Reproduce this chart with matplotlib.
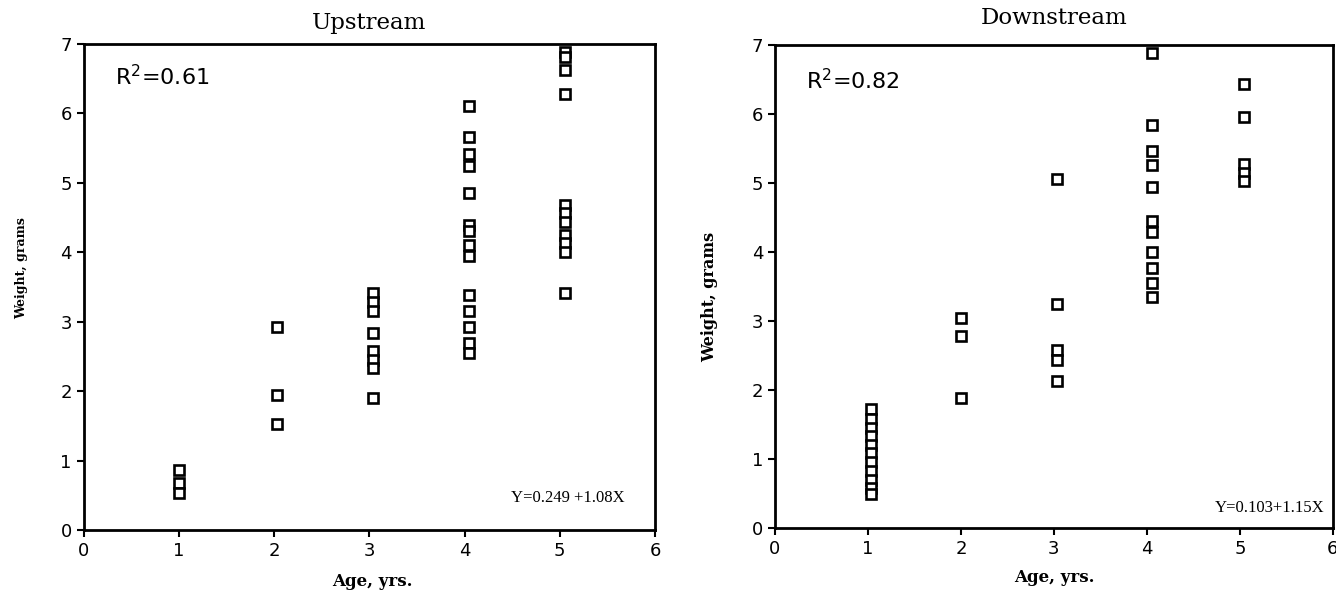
import numpy as np
import matplotlib
matplotlib.use('Agg')
import matplotlib.pyplot as plt

#  ----------------------- DATA --------------------------------------------------

# upstream: age (as plotted) and weight in grams
up_age = [1.0, 1.0, 1.0,
          2.03, 2.03, 2.03,
          3.04, 3.04, 3.04, 3.04, 3.04, 3.04, 3.04, 3.04,
          4.05, 4.05, 4.05, 4.05, 4.05, 4.05, 4.05, 4.05, 4.05, 4.05, 4.05, 4.05, 4.05, 4.05,
          5.06, 5.06, 5.06, 5.06, 5.06, 5.06, 5.06, 5.06, 5.06, 5.06, 5.06]
up_weight = [0.87, 0.68, 0.53,
             2.93, 1.95, 1.53,
             3.41, 3.28, 3.15, 2.84, 2.58, 2.45, 2.33, 1.90,
             6.11, 5.66, 5.42, 5.24, 4.86, 4.39, 4.30, 4.11, 3.95, 3.39, 3.15, 2.93, 2.69, 2.55,
             6.89, 6.81, 6.63, 6.28, 4.68, 4.56, 4.44, 4.25, 4.13, 4.01, 3.41]

# downstream
down_age = [1.03] * 11 + [2.0] * 3 + [3.03] * 5 + [4.05] * 11 + [5.04] * 5
down_weight = [1.72, 1.58, 1.45, 1.33, 1.20, 1.08, 0.95, 0.83, 0.70, 0.58, 0.50,
               3.04, 2.78, 1.89,
               5.05, 3.25, 2.58, 2.43, 2.13,
               6.88, 5.84, 5.46, 5.26, 4.94, 4.45, 4.29, 4.00, 3.76, 3.55, 3.35,
               6.43, 5.95, 5.27, 5.15, 5.03]

titles = ['Upstream', 'Downstream']
r2_labels = ['R$^2$=0.61', 'R$^2$=0.82']
eq_labels = ['Y=0.249 +1.08X', 'Y=0.103+1.15X']
x_ticks = [0, 1, 2, 3, 4, 5, 6]
y_ticks = [0, 1, 2, 3, 4, 5, 6, 7]

#  ----------------------- FIGURE ------------------------------------------------

fig = plt.figure(figsize=(13.36, 5.98), dpi=100)
ax_up = fig.add_axes([0.0625, 0.1137, 0.4278, 0.8127])
ax_down = fig.add_axes([0.580, 0.117, 0.4177, 0.808])

panels = [(ax_up, up_age, up_weight), (ax_down, down_age, down_weight)]
r2_pos = [(0.055, 0.932), (0.055, 0.925)]
eq_pos = [(0.947, 0.066), (0.985, 0.041)]
title_y = [1.043, 1.055]
ylab_pos = [(-0.097, 0.54), (-0.101, 0.478)]
ylab_size = [9, 11.5]
xlab_pos = [(0.505, -0.088), (0.50, -0.085)]

for i, (ax, ages, weights) in enumerate(panels):
    ax.plot(ages, weights, linestyle='none', marker='s', markersize=6.5,
            markerfacecolor='white', markeredgecolor='black', markeredgewidth=1.9)
    ax.set_xlim(0, 6)
    ax.set_ylim(0, 7)
    ax.set_xticks(x_ticks)
    ax.set_yticks(y_ticks)
    ax.tick_params(direction='out', length=5, width=1.5, labelsize=13, colors='black')
    for s in ax.spines.values():
        s.set_linewidth(2)
    ax.text(0.5, title_y[i], titles[i], transform=ax.transAxes, fontsize=16.5,
            family='DejaVu Serif', ha='center', va='center')
    ax.text(r2_pos[i][0], r2_pos[i][1], r2_labels[i], transform=ax.transAxes,
            fontsize=16, va='center', ha='left')
    ax.text(eq_pos[i][0], eq_pos[i][1], eq_labels[i], transform=ax.transAxes,
            fontsize=12, family='Liberation Serif', va='center', ha='right')
    ax.set_ylabel('Weight, grams', fontsize=ylab_size[i], family='DejaVu Serif', fontweight='bold')
    ax.set_xlabel('Age, yrs.', fontsize=12, family='DejaVu Serif', fontweight='bold')
    ax.yaxis.set_label_coords(*ylab_pos[i])
    ax.xaxis.set_label_coords(*xlab_pos[i])

fig.savefig('out.png', dpi=100, facecolor='white')
